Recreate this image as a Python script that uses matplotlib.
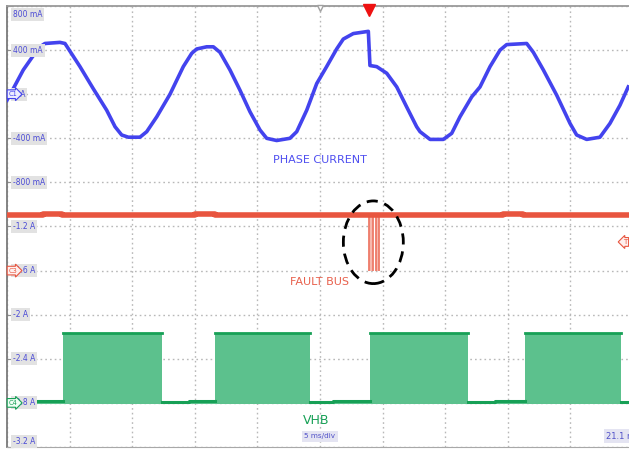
import matplotlib.pyplot as plt
import numpy as np
from matplotlib.patches import Ellipse

# time in ms (5 ms/div, 10 div), values in A
phase_t = [0, 0.50, 1.30, 2.10, 2.64, 3.03, 4.23, 4.63, 5.03, 5.83, 6.89, 7.96, 8.63, 9.16,
           9.69, 10.62, 11.16, 11.96, 13.02, 14.08, 14.75, 15.15, 15.95, 16.48, 17.01, 17.81,
           18.61, 19.41, 20.21, 20.74, 21.54, 22.60, 23.14, 23.94, 24.74, 25.53, 26.33, 26.86,
           27.66, 28.86, 28.99, 29.53, 30.33, 31.13, 31.92, 32.72, 32.99, 33.79, 34.85, 35.52,
           36.18, 37.12, 37.78, 38.58, 39.38, 39.91, 41.51, 42.04, 42.84, 43.91, 44.97, 45.50,
           46.30, 47.36, 48.16, 48.96, 49.62]
phase_i = [-0.054, 0.05, 0.22, 0.35, 0.43, 0.46, 0.47, 0.46, 0.39, 0.25, 0.05, -0.145, -0.295,
           -0.37, -0.39, -0.39, -0.34, -0.205, 0.0, 0.25, 0.37, 0.41, 0.43, 0.43, 0.38, 0.22,
           0.036, -0.16, -0.325, -0.40, -0.42, -0.40, -0.34, -0.145, 0.097, 0.25, 0.41, 0.50,
           0.55, 0.57, 0.26, 0.25, 0.19, 0.066, -0.115, -0.295, -0.34, -0.41, -0.41, -0.355,
           -0.205, -0.024, 0.066, 0.25, 0.40, 0.45, 0.46, 0.38, 0.22, -0.01, -0.265, -0.37,
           -0.41, -0.39, -0.265, -0.10, 0.066]

fault_t = [0, 2.9, 2.9, 4.4, 4.4, 15.0, 15.0, 16.6, 16.6, 27.4, 27.4, 28.9, 28.9,
           39.6, 39.6, 41.2, 41.2, 50]
fault_v = [-1.10, -1.10, -1.088, -1.088, -1.10, -1.10, -1.088, -1.088, -1.10, -1.10,
           -1.092, -1.092, -1.10, -1.10, -1.088, -1.088, -1.10, -1.10]
glitch_start = [28.95, 29.51]
glitch_end = [29.27, 29.71]
glitch_low = -1.60

vhb_t = [0, 2.2, 2.2, 4.45, 4.45, 12.36, 12.36, 14.5, 14.5, 16.62, 16.62, 24.2, 24.2,
         26.0, 26.0, 29.0, 29.0, 36.8, 36.8, 39.0, 39.0, 41.4, 41.4, 49.05, 49.05, 50]
vhb_v = [-2.79, -2.79, -2.783, -2.783, -2.167, -2.167, -2.79, -2.79, -2.783, -2.783,
         -2.167, -2.167, -2.79, -2.79, -2.783, -2.783, -2.167, -2.167, -2.79, -2.79,
         -2.783, -2.783, -2.167, -2.167, -2.79, -2.79]

ytick_vals = [0.8, 0.4, 0.0, -0.4, -0.8, -1.2, -1.6, -2.0, -2.4, -2.8, -3.2]
ytick_labels = ['800 mA', '400 mA', '0 A', '-400 mA', '-800 mA', '-1.2 A', '-1.6 A',
                '-2 A', '-2.4 A', '-2.8 A', '-3.2 A']

blue = '#4343ee'
red = '#e8553f'
green_fill = '#5cc18d'
green = '#17a056'
lbl_blue = '#4a4ad6'

fig = plt.figure(figsize=(6.29, 4.49), dpi=100)
ax = fig.add_axes([7 / 629, 2 / 449, 626 / 629, 441 / 449])
ax.set_xlim(0, 50)
ax.set_ylim(-3.2, 0.8)

ax.set_xticks(np.arange(0, 51, 5))
ax.set_yticks(ytick_vals)
ax.tick_params(labelleft=False, labelbottom=False, bottom=False,
               left=True, direction='in', length=4, color='#909090')
ax.grid(True, color='#b8b8b8', linestyle=(0, (1.2, 2.2)), linewidth=1)
ax.spines['right'].set_visible(False)
ax.spines['left'].set_color('#7a7a7a')
ax.spines['left'].set_linewidth(1.3)
ax.spines['top'].set_color('#9a9a9a')
ax.spines['top'].set_linewidth(1.3)
ax.spines['bottom'].set_color('#a8a8a8')

# y labels inside the plot
for v, s in zip(ytick_vals, ytick_labels):
    dy = 0
    if v == ytick_vals[0]:
        dy = -6
    elif v == ytick_vals[-1]:
        dy = 4
    ax.annotate(s, (0.48, v), xytext=(0, dy), textcoords='offset points', fontsize=5.5,
                color=lbl_blue, va='center', ha='left', zorder=5,
                bbox=dict(boxstyle='square,pad=0.25', fc='#e2e2e2', ec='none'))

# VHB
t = np.array(vhb_t)
v = np.array(vhb_v)
ax.fill_between(t, -2.81, v, color=green_fill, lw=0, zorder=2)
low = np.where(v > -2.5, np.nan, v)
high = np.where(v < -2.5, np.nan, v)
ax.plot(t, low, color=green, lw=2.2, zorder=3)
ax.plot(t, high, color=green, lw=2.0, zorder=3)

# fault bus
for s, e in zip(glitch_start, glitch_end):
    ax.fill_between([s, e], glitch_low, -1.10, color='#f7b8ad', lw=0, zorder=2)
    ax.vlines([s, e], glitch_low, -1.10, color='#ee7b69', lw=1.3, zorder=2)
ax.plot(fault_t, fault_v, color=red, lw=4.0, zorder=3, solid_capstyle='butt')

# phase current
ax.plot(phase_t, phase_i, color=blue, lw=2.6, zorder=4, solid_joinstyle='round')

# annotations
ax.text(25, -0.596, 'PHASE CURRENT', color='#4f4ff0', fontsize=8, ha='center', va='center')
ax.text(25, -1.70, 'FAULT BUS', color='#e8604c', fontsize=8, ha='center', va='center')
ax.text(24.7, -2.957, 'VHB', color=green, fontsize=9, ha='center', va='center')

ax.add_patch(Ellipse((29.26, -1.343), 4.79, 0.75, fill=False, ec='black', lw=2,
                     ls=(0, (4, 2.5)), zorder=6))

# channel markers
marker_box = dict(boxstyle='rarrow,pad=0.2', lw=0.8)
ax.text(0.12, 0.0, 'C1', fontsize=4.8, color=blue, va='center', ha='left', zorder=7,
        bbox=dict(marker_box, fc='#eeeeff', ec=blue))
ax.text(0.12, -1.6, 'C3', fontsize=4.8, color=red, va='center', ha='left', zorder=7,
        bbox=dict(marker_box, fc='#fff0ee', ec=red))
ax.text(0.12, -2.8, 'C4', fontsize=4.8, color=green, va='center', ha='left', zorder=7,
        bbox=dict(marker_box, fc='#eefff4', ec=green))
ax.text(49.2, -1.34, 'T', fontsize=5, color=red, va='center', ha='left', zorder=7,
        bbox=dict(boxstyle='larrow,pad=0.2', fc='#fff0ee', ec=red, lw=0.8))

# trigger markers on top
ax.plot([28.95], [0.765], marker='v', markersize=9, color='#ee1111', clip_on=False, zorder=8)
ax.plot([25.0], [0.78], marker='v', markersize=5, mfc='white', mec='#a0a0a0',
        clip_on=False, zorder=8)

ax.text(25.0, -3.104, '5 ms/div', fontsize=5.2, color='#5050c8', ha='center', va='center',
        bbox=dict(boxstyle='square,pad=0.3', fc='#e4e4f2', ec='none'))
ax.text(47.85, -3.104, '21.1 ms', fontsize=6, color='#5050c8', ha='left', va='center',
        bbox=dict(boxstyle='square,pad=0.3', fc='#e4e4f2', ec='none'))

fig.savefig('out.png', dpi=100)
